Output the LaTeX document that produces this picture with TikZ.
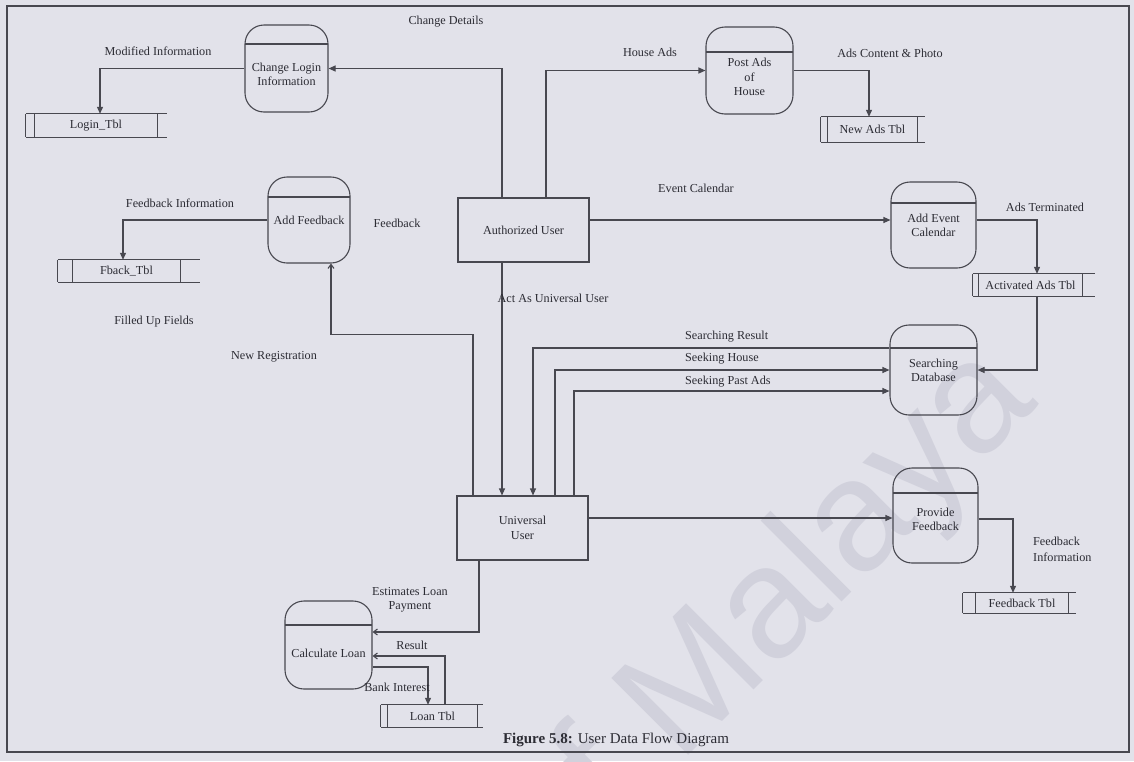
\documentclass[tikz,border=0pt]{standalone}
\usepackage{fontspec}
\setmainfont{Liberation Serif}
\newfontfamily\wmfont{Liberation Sans}
\usetikzlibrary{arrows.meta}
\definecolor{paper}{RGB}{226,226,234}
\definecolor{ink}{RGB}{72,72,80}
\definecolor{inktext}{RGB}{44,44,52}
\definecolor{wmark}{RGB}{209,209,220}
\begin{document}
\begin{tikzpicture}[x=1pt,y=-1pt,
  line/.style={draw=ink, line width=1.1pt},
  flow/.style={line, -{Triangle[length=7pt,width=6pt]}},
  openflow/.style={line, -{Straight Barb[length=4pt,width=6pt]}},
  lbl/.style={text=inktext, font=\fontsize{12.2}{14}\selectfont, inner sep=1pt, align=center},
  process/.style={line, rounded corners=19pt, inner sep=0pt,
    path picture={\draw[ink, line width=1.1pt]
      ([yshift=-#1pt]path picture bounding box.north west) --
      ([yshift=-#1pt]path picture bounding box.north east);}},
  process/.default=22,
  entity/.style={line, inner sep=0pt, align=center, text=inktext,
    font=\fontsize{12.2}{15}\selectfont},
  store/.style={inner sep=0pt, text=inktext, font=\fontsize{12.2}{14}\selectfont}
]
\useasboundingbox (0,0) rectangle (1134,761);
\fill[paper] (0,0) rectangle (1134,761);

% watermark
\node[text=wmark, font=\wmfont\fontsize{158}{158}\selectfont, rotate=45,
      anchor=base east, inner sep=0pt] (wm) at (1040,404) {of Malaya};

% frame
\draw[ink, line width=1.2pt] (7,6) rectangle (1129,752);

% processes
\node[process=19, minimum width=83pt, minimum height=87pt,
  label={[lbl, yshift=-6pt, name=cliT]center:Change Login\\Information}] (cli) at (286.5,68.5) {};
\node[process=20, minimum width=82pt, minimum height=86pt,
  label={[lbl, name=afT]center:Add Feedback}] (af) at (309,220) {};
\node[process=25, minimum width=87pt, minimum height=87pt,
  label={[lbl, yshift=-6.5pt, name=paT, font=\fontsize{12.2}{14.5}\selectfont]center:Post Ads\\of\\House}] (pa) at (749.5,70.5) {};
\node[process=21, minimum width=85pt, minimum height=86pt,
  label={[lbl, name=aecT]center:Add Event\\Calendar}] (aec) at (933.5,225) {};
\node[process=23, minimum width=87pt, minimum height=90pt,
  label={[lbl, name=sdT]center:Searching\\Database}] (sd) at (933.5,370) {};
\node[process=25, minimum width=85pt, minimum height=95pt,
  label={[lbl, yshift=-3.5pt, name=pfT]center:Provide\\Feedback}] (pf) at (935.5,515.5) {};
\node[process=24, minimum width=87pt, minimum height=88pt,
  label={[lbl, yshift=-8pt, name=clT]center:Calculate Loan}] (cl) at (328.5,645) {};

% external entities
\node[entity, minimum width=131pt, minimum height=64pt] (au) at (523.5,230) {Authorized User};
\node[entity, minimum width=131pt, minimum height=64pt] (uu) at (522.5,528) {Universal\\User};

% data stores (node spans the text field; extra compartments drawn below)
\node[store, minimum width=122pt, minimum height=23pt] (login) at (96,125.5) {Login\_Tbl};
\node[store, minimum width=107pt, minimum height=22pt] (fback) at (126.5,271) {Fback\_Tbl};
\node[store, minimum width=89pt, minimum height=25pt] (newads) at (872.5,129.5) {New Ads Tbl};
\node[store, minimum width=103pt, minimum height=22pt] (act) at (1030.5,285) {Activated Ads Tbl};
\node[store, minimum width=92pt, minimum height=20pt] (fbt) at (1022,603) {Feedback Tbl};
\node[store, minimum width=89pt, minimum height=22pt] (loan) at (432.5,716) {Loan Tbl};

\foreach \s/\l/\r in {login/9/10, fback/15/20, newads/7/8, act/6/13, fbt/13/8, loan/7/6}{
  \draw[ink, line width=1.1pt]
    ([xshift=-\l pt]\s.north west) -- ([xshift=\r pt]\s.north east)
    ([xshift=-\l pt]\s.south west) -- ([xshift=\r pt]\s.south east)
    ([xshift=-\l pt]\s.north west) -- ([xshift=-\l pt]\s.south west)
    (\s.north west) -- (\s.south west)
    (\s.north east) -- (\s.south east);
}

% connection points
\coordinate (auA) at ([xshift=-21.5pt]au.north);
\coordinate (auH) at ([xshift=22.5pt]au.north);
\coordinate (auR) at ([yshift=10pt]au.east);
\coordinate (auB) at ([xshift=-21.5pt]au.south);
\coordinate (aecR) at ([yshift=5pt]aec.east);
\coordinate (actB) at ([xshift=6.5pt]act.south);
\coordinate (actT) at ([xshift=6.5pt]act.north);
\coordinate (uuF) at ([xshift=-49.5pt]uu.north);
\coordinate (uuS) at ([xshift=10.5pt]uu.north);
\coordinate (uuK) at ([xshift=32.5pt]uu.north);
\coordinate (uuP) at ([xshift=51.5pt]uu.north);
\coordinate (uuR) at ([yshift=10pt]uu.east);
\coordinate (uuL) at ([xshift=-43.5pt]uu.south);
\coordinate (sdR) at ([yshift=22pt]sd.west);
\coordinate (sdP) at ([yshift=-21pt]sd.west);
\coordinate (afB) at ([xshift=22pt]af.south);
\coordinate (loginT) at ([xshift=4pt]login.north);
\coordinate (fbackT) at ([xshift=-3.5pt]fback.north);
\coordinate (pfR) at ([yshift=-3.5pt]pf.east);
\coordinate (fbtT) at ([xshift=-9pt]fbt.north);
\coordinate (clE) at ([yshift=13pt]cl.east);
\coordinate (clR) at ([yshift=-11pt]cl.east);
\coordinate (clB) at ([yshift=-22pt]cl.east);
\coordinate (loanR) at ([xshift=12.5pt]loan.north);
\coordinate (loanB) at ([xshift=-4.5pt]loan.north);

% flows
\draw[flow] (auA) |- (cli.east);
\draw[flow] (auH) |- (pa.west);
\draw[flow] (pa.east) -| ([xshift=-3.5pt]newads.north);
\draw[flow] (cli.west) -| (loginT);
\draw[flow] (af.west) -| (fbackT);
\draw[flow] (auR) -- (auR -| aec.west);
\draw[flow] (aecR) -| (actT);
\draw[flow] (actB) |- (sd.east);
\draw[flow] (auB) -- (auB |- uu.north);
\draw[openflow] (uuF) -- ++(0,-161) -| (afB);
\draw[flow] (sdR) -| (uuS);
\draw[flow] (uuK) |- (sd.west);
\draw[flow] (uuP) |- (sdP);
\draw[flow] (uuR) -- (uuR -| pf.west);
\draw[flow] (pfR) -| (fbtT);
\draw[openflow] (uuL) |- (clE);
\draw[openflow] (loanR) |- (clR);
\draw[flow] (clB) -| (loanB);

% flow labels
\node[lbl] (tChg) at (446,22) {Change Details};
\node[lbl] (tHouse) at (650,52) {House Ads};
\node[lbl] (tAds) at (890,53) {Ads Content \& Photo};
\node[lbl] (tMod) at (158,51) {Modified Information};
\node[lbl] (tFbI) at (180,203) {Feedback Information};
\node[lbl] (tEvt) at (696,188) {Event Calendar};
\node[lbl] (tTerm) at (1045,207) {Ads Terminated};
\node[lbl] (tAct) at (553,298) {Act As Universal User};
\node[lbl] (tFb) at (397,223) {Feedback};
\node[lbl] (tReg) at (274,357) {New Registration};
\node[lbl] (tFill) at (154,322) {Filled Up Fields};
\node[lbl, anchor=west] (tRes) at (684,337) {Searching Result};
\node[lbl, anchor=west] (tSeek) at (684,359) {Seeking House};
\node[lbl, anchor=west] (tPast) at (684,382) {Seeking Past Ads};
\node[lbl, align=left, anchor=west, font=\fontsize{12.2}{16}\selectfont] (tPfI) at (1032,549) {Feedback\\Information};
\node[lbl, font=\fontsize{12.2}{14}\selectfont] (tEst) at (410,600) {Estimates Loan\\Payment};
\node[lbl] (tResult) at (412,645) {Result};
\node[lbl] (tBank) at (397,687) {Bank Interest};

% caption
\node[text=inktext, font=\fontsize{15}{17}\selectfont, inner sep=0pt] (cap) at (616,740)
  {\textbf{Figure 5.8:} User Data Flow Diagram};
\end{tikzpicture}
\end{document}
